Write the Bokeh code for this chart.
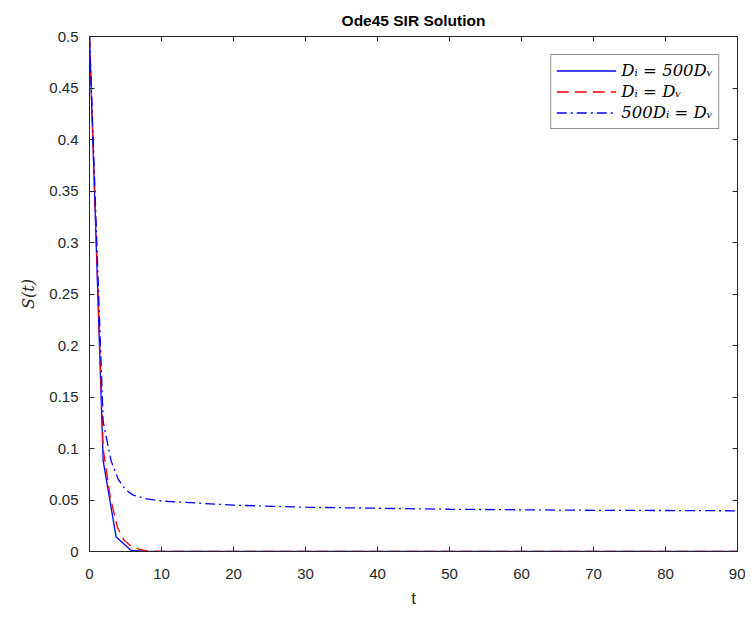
from bokeh.plotting import figure
from bokeh.models import LinearAxis, FixedTicker, Legend, LegendItem, Range1d
from bokeh.embed import file_html
from bokeh.resources import INLINE

# ---- data ----
t_s1 = [0, 1.9, 3.7, 5.8, 8, 10, 20, 30, 40, 50, 60, 70, 80, 90]
S_s1 = [0.5, 0.088, 0.014, 0.001, 0.0002, 0, 0, 0, 0, 0, 0, 0, 0, 0]

t_s2 = [0, 1.9, 2.9, 3.9, 4.8, 5.8, 7, 8, 10, 20, 30, 40, 50, 60, 70, 80, 90]
S_s2 = [0.5, 0.10, 0.052, 0.023, 0.011, 0.005, 0.002, 0.0005, 0, 0, 0, 0, 0, 0, 0, 0, 0]

t_s3 = [0, 1.9, 2.5, 3, 4, 5, 6, 8, 10, 15, 20, 30, 40, 50, 60, 70, 80, 90]
S_s3 = [0.5, 0.126, 0.105, 0.088, 0.07, 0.06, 0.055, 0.051, 0.049, 0.047, 0.045,
        0.043, 0.042, 0.041, 0.0405, 0.040, 0.0398, 0.0395]

labels = ["D\u1d62 = 500D\u1d65", "D\u1d62 = D\u1d65", "500D\u1d62 = D\u1d65"]

x_ticks = [0, 10, 20, 30, 40, 50, 60, 70, 80, 90]
x_tick_labels = ["0", "10", "20", "30", "40", "50", "60", "70", "80", "90"]
y_ticks = [0, 0.05, 0.1, 0.15, 0.2, 0.25, 0.3, 0.35, 0.4, 0.45, 0.5]
y_tick_labels = ["0", "0.05", "0.1", "0.15", "0.2", "0.25", "0.3", "0.35", "0.4", "0.45", "0.5"]

AX = "#262626"
FONT = "Liberation Sans"

p = figure(width=745, height=613, output_backend="svg", toolbar_location=None,
           x_range=Range1d(0, 90), y_range=Range1d(0, 0.5),
           title="Ode45 SIR Solution",
           min_border_left=89, min_border_right=8, min_border_bottom=62, min_border_top=36)
p.title.align = "center"
p.title.text_font = FONT
p.title.text_font_size = "15.5px"
p.title.text_font_style = "bold"
p.title.text_color = "#000000"
p.title.standoff = 16

p.xgrid.visible = False
p.ygrid.visible = False
p.outline_line_color = AX
p.outline_line_width = 1
p.background_fill_color = "white"
p.border_fill_color = "white"

r1 = p.line(t_s1, S_s1, line_color="#0000ff", line_width=1.3)
r2 = p.line(t_s2, S_s2, line_color="#ff0000", line_width=1.3, line_dash="12 6")
r3 = p.line(t_s3, S_s3, line_color="#0000ff", line_width=1.3, line_dash="10 4 2 4")


def style_axis(ax, ticks, labs, show):
    ax.ticker = FixedTicker(ticks=ticks)
    ax.major_label_overrides = {t: (l if show else "") for t, l in zip(ticks, labs)}
    ax.major_tick_in = 5
    ax.major_tick_out = 0
    ax.minor_tick_in = 0
    ax.minor_tick_out = 0
    ax.axis_line_color = AX
    ax.major_tick_line_color = AX
    ax.major_label_text_color = AX
    ax.major_label_text_font = FONT
    ax.major_label_text_font_size = "15px"


xa = p.xaxis[0]
style_axis(xa, x_ticks, x_tick_labels, True)
xa.axis_label = "t"
xa.axis_label_text_font = FONT
xa.axis_label_text_font_size = "17px"
xa.axis_label_text_font_style = "normal"
xa.axis_label_text_color = AX
xa.major_label_standoff = 17
xa.axis_label_standoff = 7

ya = p.yaxis[0]
style_axis(ya, y_ticks, y_tick_labels, True)
ya.axis_label = "S(t)"
ya.axis_label_text_font = "DejaVu Serif"
ya.axis_label_text_font_size = "16px"
ya.axis_label_text_font_style = "italic"
ya.axis_label_text_color = AX
ya.major_label_standoff = 11
ya.axis_label_standoff = 8

top = LinearAxis()
style_axis(top, x_ticks, x_tick_labels, False)
top.major_label_standoff = 0
p.add_layout(top, "above")
right = LinearAxis()
style_axis(right, y_ticks, y_tick_labels, False)
right.major_label_standoff = 0
p.add_layout(right, "right")

legend = Legend(items=[LegendItem(label=labels[0], renderers=[r1]),
                       LegendItem(label=labels[1], renderers=[r2]),
                       LegendItem(label=labels[2], renderers=[r3])],
                location="top_right")
legend.margin = 18
legend.padding = 5
legend.spacing = 0
legend.glyph_width = 60
legend.glyph_height = 21
legend.label_height = 21
legend.label_standoff = 5
legend.label_text_font = "DejaVu Serif"
legend.label_text_font_size = "16.5px"
legend.label_text_font_style = "italic"
legend.label_text_color = "#000000"
legend.border_line_color = AX
legend.border_line_width = 1
legend.background_fill_alpha = 1
p.add_layout(legend)

open("out.html", "w").write(file_html(p, INLINE))
